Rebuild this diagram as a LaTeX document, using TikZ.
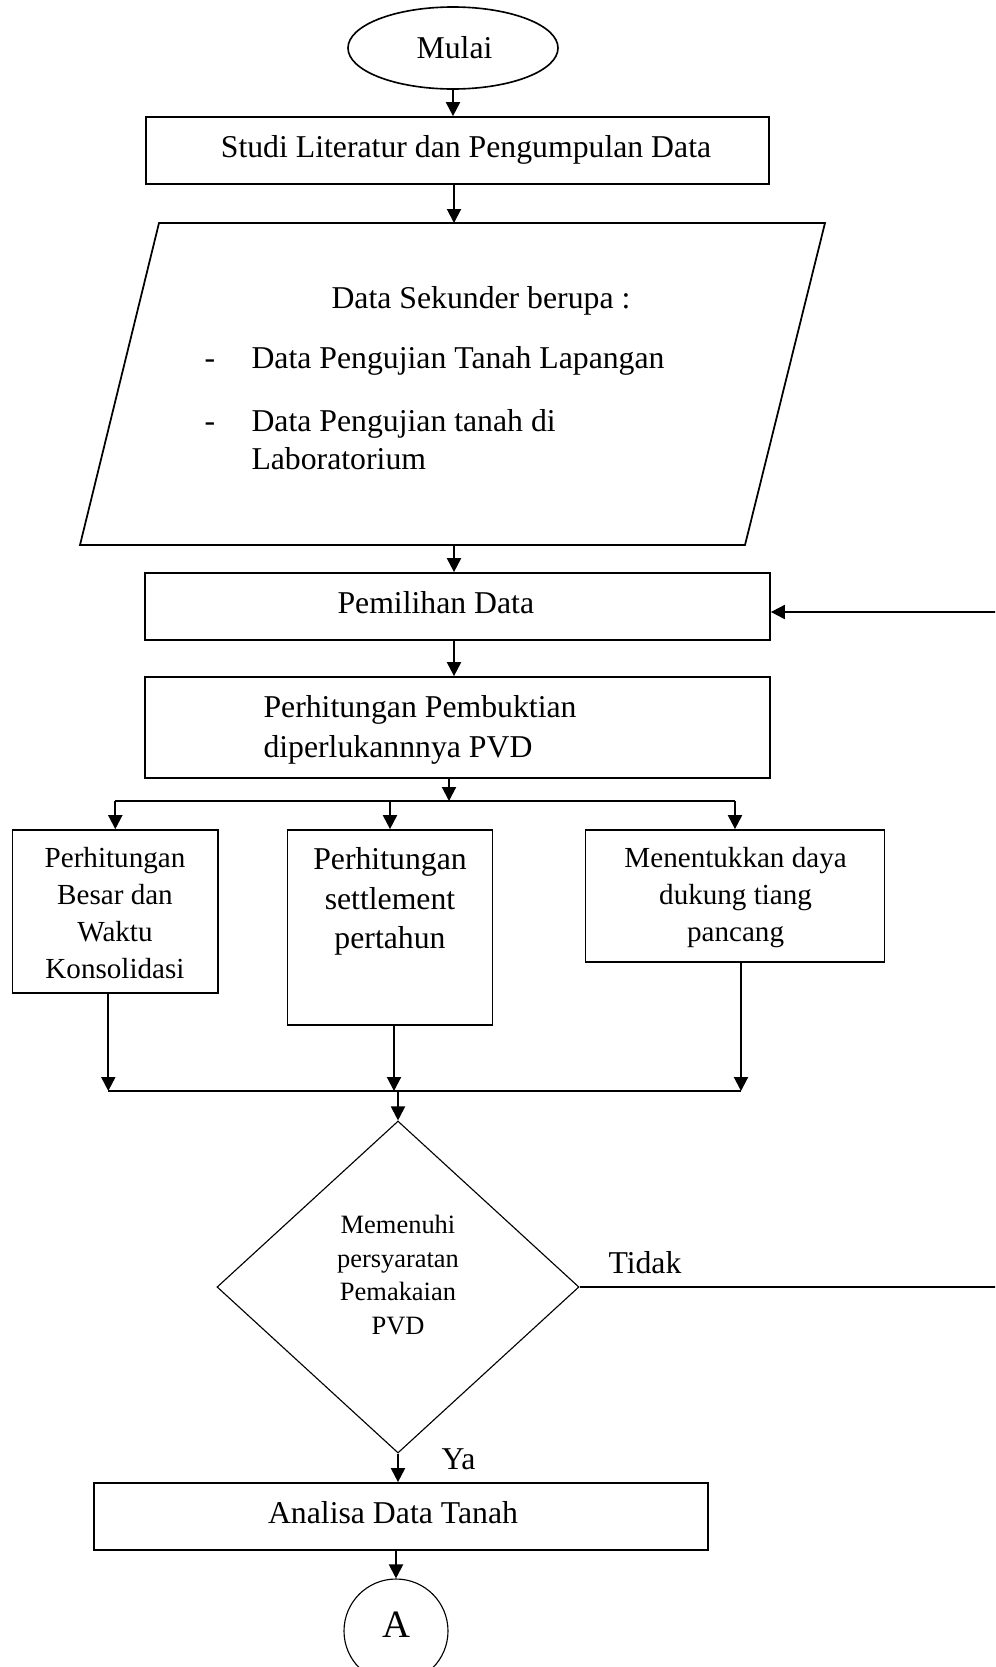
\documentclass[tikz,border=0pt]{standalone}
\usepackage{fontspec}
\setmainfont{Liberation Serif}
\usetikzlibrary{shapes.geometric,arrows.meta,calc}
\newcommand\fsA{\fontsize{12.7pt}{15pt}\selectfont}
\newcommand\fsB{\fontsize{11.64pt}{14pt}\selectfont}
\newcommand\fsC{\fontsize{10.58pt}{13pt}\selectfont}
\newcommand\fsD{\fontsize{15.5pt}{18pt}\selectfont}
\begin{document}
\begin{tikzpicture}[x=0.4pt,y=-0.4pt,
  boxst/.style={draw,rectangle,line width=0.7pt,inner sep=0pt},
  txt/.style={inner sep=0pt,anchor=base,font=\fsA},
  txtw/.style={inner sep=0pt,anchor=base west,font=\fsA},
  txtb/.style={inner sep=0pt,anchor=base,font=\fsB},
  txtc/.style={inner sep=0pt,anchor=base,font=\fsC},
  arr/.style={line width=0.8pt,-{Triangle[length=5.6pt,width=5.6pt]}},
  conn/.style={line width=0.6pt}]
\useasboundingbox (0,0) rectangle (995,1667);
\fill[white] (0,0) rectangle (995,1667);
\clip (0,0) rectangle (995,1667);

% start
\node[draw,ellipse,line width=0.65pt,minimum width=84pt,minimum height=32.8pt,inner sep=0pt] (mulai) at (453,48) {};
\node[txt] (tmulai) at (454.5,58) {Mulai};

\node[boxst,minimum width=249.2pt,minimum height=26.8pt] (studi) at (457.5,150.5) {};
\node[txt] (tstudi) at (466,157) {Studi Literatur dan Pengumpulan Data};

% parallelogram
\coordinate (pTL) at (159,223);
\coordinate (pTR) at (825,223);
\coordinate (pBR) at (745,545);
\coordinate (pBL) at (80,545);
\draw[line width=0.7pt] (pTL) -- (pTR) -- (pBR) -- (pBL) -- cycle;
\coordinate (paraN) at (454,223);
\coordinate (paraS) at (454,545);
\node[txtw] (d0) at (331,308) {Data Sekunder berupa :};
\node[txtw] (d1) at (204,368) {-};
\node[txtw] (d2) at (251,368) {Data Pengujian Tanah Lapangan};
\node[txtw] (d3) at (204,431.5) {-};
\node[txtw] (d4) at (251,431.5) {Data Pengujian tanah di};
\node[txtw] (d5) at (251,469.5) {Laboratorium};

% pemilihan
\node[boxst,minimum width=250pt,minimum height=26.8pt] (pem) at (457.5,606.5) {};
\node[txtw] (tpem) at (337,613) {Pemilihan Data};

% perhitungan pembuktian
\node[boxst,minimum width=250pt,minimum height=40.4pt] (per) at (457.5,727.5) {};
\node[txtw] (tper1) at (263,717) {Perhitungan Pembuktian};
\node[txtw] (tper2) at (263,757) {diperlukannnya PVD};

% three boxes
\node[boxst,minimum width=82.16pt,minimum height=65.2pt] (b1) at (115.3,911.5) {};
\node[txtb] (b1a) at (115,867) {Perhitungan};
\node[txtb] (b1b) at (115,904) {Besar dan};
\node[txtb] (b1c) at (115,941) {Waktu};
\node[txtb] (b1d) at (115,978) {Konsolidasi};

\node[boxst,minimum width=81.96pt,minimum height=78pt] (b2) at (390,927.5) {};
\node[txt] (b2a) at (390,869) {Perhitungan};
\node[txt] (b2b) at (390,909) {settlement};
\node[txt] (b2c) at (390,948) {pertahun};

\node[boxst,minimum width=119.64pt,minimum height=52.8pt] (b3) at (735,896) {};
\node[txtb] (b3a) at (735.6,867) {Menentukkan daya};
\node[txtb] (b3b) at (735.6,904) {dukung tiang};
\node[txtb] (b3c) at (735.6,941) {pancang};

% decision
\node[draw,diamond,line width=0.45pt,minimum width=144.8pt,minimum height=132.8pt,inner sep=0pt] (dia) at (398,1287) {};
\node[txtc] (dia1) at (398,1233.5) {Memenuhi};
\node[txtc] (dia2) at (398,1267) {persyaratan};
\node[txtc] (dia3) at (398,1300.5) {Pemakaian};
\node[txtc] (dia4) at (398,1334) {PVD};
\node[txtw] (tidak) at (608,1273) {Tidak};
\node[txtw] (ya) at (441,1469) {Ya};

% analisa
\node[boxst,minimum width=245.6pt,minimum height=26.8pt] (ana) at (401,1516.5) {};
\node[txt] (tana) at (393,1523) {Analisa Data Tanah};

\node[draw,circle,line width=0.45pt,minimum size=41.6pt,inner sep=0pt] (cA) at (396,1631) {};
\node[inner sep=0pt,anchor=base,font=\fsD] (tA) at (396,1637) {A};

% connectors
\draw[arr] (mulai.south) -- (mulai.south |- studi.north);
\draw[arr] (paraN |- studi.south) -- (paraN);
\draw[arr] (paraS) -- (paraS |- pem.north);
\draw[arr] (paraS |- pem.south) -- (paraS |- per.north);

\coordinate (split) at (449,801);
\draw[arr] (split |- per.south) -- (split);
\draw[conn] (b1.north |- split) -- (b3.north |- split);
\draw[arr] (b1.north |- split) -- (b1.north);
\draw[arr] (b2.north |- split) -- (b2.north);
\draw[arr] (b3.north |- split) -- (b3.north);

\coordinate (o1) at ($(b1.south)+(-7,0)$);
\coordinate (o2) at ($(b2.south)+(4,0)$);
\coordinate (o3) at ($(b3.south)+(6,0)$);
\coordinate (join) at (398,1091);
\draw[arr] (o1) -- (o1 |- join);
\draw[arr] (o2) -- (o2 |- join);
\draw[arr] (o3) -- (o3 |- join);
\draw[conn] (o1 |- join) -- (o3 |- join);
\draw[arr] (join) -- (dia.north);

\coordinate (fbT) at (1000,612);
\draw[line width=0.5pt] (dia.east) -- (dia.east -| fbT) -- (fbT);
\draw[arr] (fbT) -- (fbT -| pem.east);

\draw[arr] (dia.south) -- (dia.south |- ana.north);
\draw[arr] (cA.north |- ana.south) -- (cA.north);
\end{tikzpicture}
\end{document}
